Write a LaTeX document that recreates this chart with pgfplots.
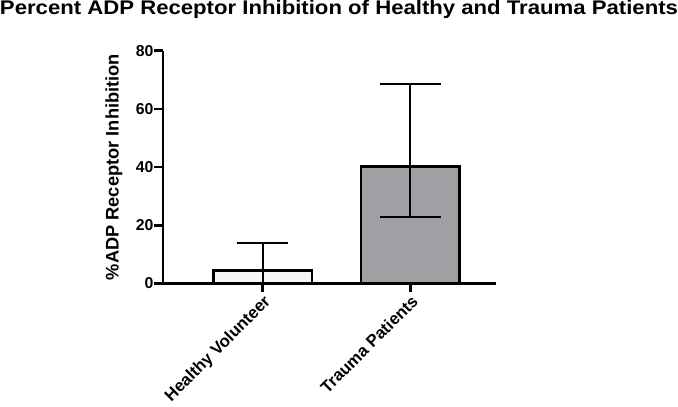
\documentclass[border=0pt]{standalone}
\usepackage{pgfplots}
\pgfplotsset{compat=1.18}
\usepackage{fontspec}
\setmainfont{Liberation Sans}
\definecolor{traumagray}{RGB}{160,160,164}
\definecolor{healthyfill}{RGB}{244,246,250}

\begin{document}
\begin{tikzpicture}
\begin{axis}[
    scale only axis,
    width=338pt, height=236pt,
    xmin=-0.673, xmax=1.58,
    ymin=0, ymax=80,
    axis lines=left,
    axis line style={line width=2.8pt, -},
    xtick={0,1},
    xticklabels={Healthy Volunteer, Trauma Patients},
    ytick={0,20,40,60,80},
    tick style={line width=2.6pt, black},
    tick align=outside,
    major tick length=9pt,
    xticklabel style={rotate=45, anchor=north east, font=\bfseries\fontsize{17}{19}\selectfont, inner sep=1pt},
    yticklabel style={font=\bfseries\fontsize{16}{18}\selectfont, inner sep=0.5pt},
    /pgf/number format/assume math mode=true,
    ylabel={\%ADP Receptor Inhibition},
    ylabel style={font=\bfseries\fontsize{18.5}{20}\selectfont, inner sep=0pt, at={(axis description cs:0,0.5)}, anchor=south, yshift=41pt},
    title={\scalebox{1.123}[1]{Percent ADP Receptor Inhibition of Healthy and Trauma Patients}},
    title style={font=\bfseries\fontsize{20}{24}\selectfont, inner sep=0pt, at={(axis description cs:0.5,1)}, anchor=base, xshift=9.5pt, yshift=31pt},
    clip=false,
]
\addplot[ybar, bar width=100pt, fill=healthyfill, draw=black, line width=2.6pt,
    error bars/.cd, y dir=both, y explicit,
    error bar style={line width=2pt, black},
    error mark options={rotate=90, mark size=26pt, line width=2pt, black}]
coordinates {(0,4.5) += (0,9.3) -= (0,4.5)};
\addplot[ybar, bar width=100pt, fill=traumagray, draw=black, line width=2.6pt,
    error bars/.cd, y dir=both, y explicit,
    error bar style={line width=2pt, black},
    error mark options={rotate=90, mark size=31pt, line width=2pt, black}]
coordinates {(1,40.3) += (0,28.3) -= (0,17.5)};
\end{axis}
\end{tikzpicture}
\end{document}
